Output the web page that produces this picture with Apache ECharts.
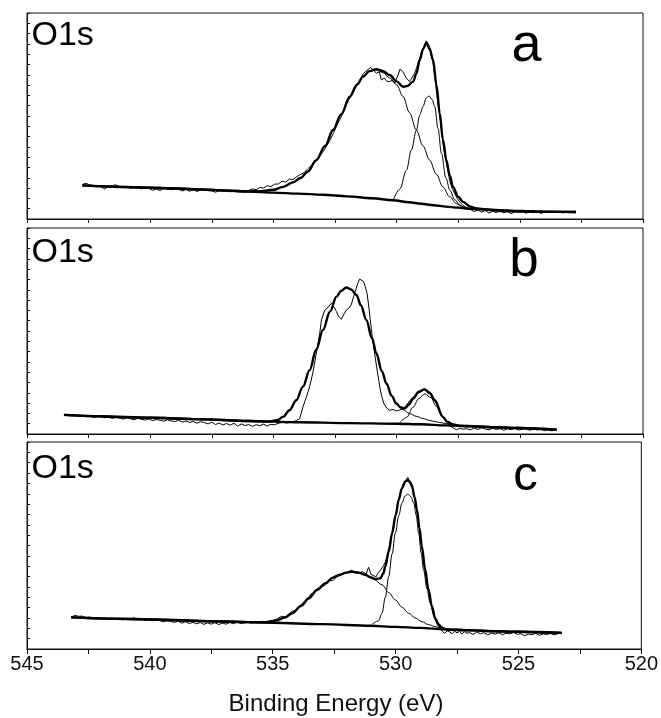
<!DOCTYPE html>
<html>
<head>
<meta charset="utf-8">
<script src="https://cdn.jsdelivr.net/npm/echarts@6/dist/echarts.min.js"></script>
<style>
  html, body { margin: 0; padding: 0; background: #fff; }
  #chart { width: 661px; height: 718px; }
</style>
</head>
<body>
<div id="chart"></div>
<script>
// O1s XPS spectra, binding energy (eV) vs intensity (arb. units, 0-100 per panel)
const energyTicks = [545, 540, 535, 530, 525, 520];
const panelLetters = ['a', 'b', 'c'];
const coreLevel = 'O1s';

// ---- panel a ----
const rawA = [
  [542.75,16.8],[542.6,17.3],[542.45,16.5],[542.3,16.2],[542.15,16.0],[542.0,15.8],[541.85,14.5],[541.7,15.9],
  [541.55,16.1],[541.4,16.6],[541.25,15.6],[541.1,15.4],[540.95,15.8],[540.8,14.9],[540.65,15.3],[540.5,15.5],
  [540.35,14.6],[540.2,15.2],[540.05,14.8],[539.9,13.9],[539.75,14.6],[539.6,13.8],[539.45,14.9],[539.3,14.7],
  [539.15,14.2],[539.0,14.8],[538.85,14.5],[538.7,13.6],[538.55,14.3],[538.4,13.5],[538.25,14.2],[538.1,13.4],
  [537.95,14.1],[537.8,14.0],[537.65,13.7],[537.5,13.6],[537.35,13.0],[537.2,13.8],[537.05,13.4],[536.9,13.6],
  [536.75,13.2],[536.6,13.5],[536.45,13.4],[536.3,13.7],[536.15,13.4],[536.0,13.9],[535.85,14.6],[535.7,14.2],
  [535.55,15.3],[535.4,15.0],[535.25,16.2],[535.1,15.7],[534.95,16.9],[534.8,17.0],[534.65,18.3],[534.5,17.9],
  [534.35,19.4],[534.2,19.1],[534.05,20.6],[533.9,21.6],[533.75,22.5],[533.6,24.4],[533.45,26.1],[533.3,27.6],
  [533.15,30.0],[533.0,32.5],[532.85,35.3],[532.7,38.4],[532.55,42.0],[532.4,46.2],[532.25,49.5],[532.1,53.7],
  [531.95,57.6],[531.8,61.3],[531.65,64.0],[531.5,67.3],[531.35,70.6],[531.2,72.2],[531.05,73.6],[530.95,72.3],
  [530.82,70.8],[530.7,71.5],[530.62,67.5],[530.5,68.4],[530.4,66.9],[530.28,66.7],[530.18,67.3],[530.08,65.9],
  [530.0,66.5],[529.94,69.9],[529.86,72.8],[529.81,73.4],[529.75,71.6],[529.71,72.4],[529.6,68.3],[529.47,66.7],
  [529.37,68.8],[529.27,70.7],[529.2,73.0],[529.13,75.6],[529.06,78.2],[529.0,80.5],[528.93,82.7],[528.86,84.5],
  [528.8,86.5],[528.77,85.9],[528.72,84.9],[528.66,83.7],[528.59,80.2],[528.52,75.6],[528.45,69.5],[528.39,62.6],
  [528.32,56.0],[528.25,49.7],[528.18,43.2],[528.12,36.7],[528.05,31.5],[527.98,27.0],[527.9,22.3],[527.85,18.8],
  [527.75,15.0],[527.64,12.4],[527.54,10.0],[527.44,8.3],[527.3,6.6],[527.17,5.5],[527.0,4.6],[526.85,3.6],
  [526.7,4.4],[526.55,3.3],[526.4,4.1],[526.25,2.9],[526.1,3.8],[525.95,3.1],[525.8,4.0],[525.65,3.0],
  [525.5,3.7],[525.35,2.6],[525.2,3.6],[525.05,3.2],[524.9,3.9],[524.75,2.8],[524.6,3.5],[524.45,3.0],
  [524.3,3.7],[524.15,2.7],[524.0,3.4],[523.85,3.1],[523.7,3.8],[523.55,3.2],[523.4,3.5],[523.25,2.9],
  [523.1,3.6],[522.95,3.3],[522.8,3.6],[522.72,3.5]
];
const envelopeA = [
  [542.75,16.3],[540,15.2],[538,14.4],[536.5,13.6],[536,13.4],[535.5,13.5],[535,14.2],[534.6,15.6],[534.2,17.8],
  [533.9,19.9],[533.6,23.0],[533.26,28.6],[532.9,35.5],[532.58,43.2],[532.25,50.8],[531.9,59.4],[531.6,65.3],
  [531.36,69.1],[531.1,71.8],[530.82,72.7],[530.55,71.8],[530.28,69.9],[530.0,66.8],[529.74,64.2],[529.55,64.6],
  [529.33,66.7],[529.2,70.5],[529.06,77.2],[528.92,82.7],[528.79,85.6],[528.66,82.5],[528.52,77.2],[528.38,65.0],
  [528.25,51.3],[528.12,38.5],[527.98,28.6],[527.84,21.0],[527.71,15.6],[527.5,10.8],[527.3,8.3],[527.0,6.0],
  [526.76,5.1],[526.2,4.4],[525.68,3.9],[524.5,3.6],[522.72,3.4]
];
const backgroundA = [
  [542.75,16.3],[541,15.6],[540,15.2],[539,14.8],[538,14.4],[537,13.9],[536,13.3],[535,12.8],[534,12.3],
  [533,11.8],[532,11.0],[531,10.1],[530.14,9.1],[529.5,8.1],[529,7.4],[528.5,6.7],[528,6.0],[527.5,5.5],
  [527,5.0],[526,4.4],[525,3.9],[524,3.6],[522.72,3.4]
];
const broadA = [
  [536,13.4],[535.5,13.5],[535,14.2],[534.6,15.6],[534.2,17.8],[533.9,19.9],[533.6,23.0],[533.26,28.6],
  [532.9,35.5],[532.58,43.2],[532.25,50.8],[531.9,59.4],[531.6,65.3],[531.36,69.1],[531.1,71.8],[530.82,72.5],
  [530.55,71.0],[530.28,68.4],[530.0,65.2],[529.74,59.5],[529.47,51.5],[529.2,43.2],[528.93,35.5],[528.66,28.6],
  [528.39,21.8],[528.12,15.6],[527.85,10.8],[527.57,7.5],[527.3,5.8],[527.0,5.0],[526.5,4.6]
];
const narrowA = [
  [530.14,9.1],[529.87,14.5],[529.6,23.7],[529.4,33.5],[529.2,43.0],[529.06,50.5],[528.93,54.5],[528.8,58.7],
  [528.68,59.7],[528.56,58.0],[528.45,54.5],[528.32,44.0],[528.18,31.8],[528.0,20.0],[527.84,14.0],[527.65,9.5],
  [527.43,6.7],[527.2,5.4],[527.0,5.0]
];

// ---- panel b ----
const rawB = [
  [543.5,9.4],[543.35,9.0],[543.2,8.8],[543.05,9.1],[542.9,8.6],[542.75,8.9],[542.6,8.3],[542.45,8.7],[542.3,8.0],
  [542.15,8.5],[542.0,8.6],[541.85,7.9],[541.7,8.4],[541.55,7.6],[541.4,8.1],[541.25,7.8],[541.1,7.2],[540.95,7.9],
  [540.8,7.4],[540.65,6.9],[540.5,7.6],[540.35,7.1],[540.2,6.8],[540.05,7.3],[539.9,6.5],[539.75,7.0],[539.6,6.7],
  [539.45,6.2],[539.3,6.9],[539.15,6.4],[539.0,6.0],[538.85,6.7],[538.7,5.8],[538.55,6.3],[538.4,5.6],[538.25,6.1],
  [538.1,5.2],[537.95,6.0],[537.8,5.5],[537.65,4.9],[537.5,5.7],[537.35,4.6],[537.2,5.3],[537.05,4.4],[536.9,5.1],
  [536.75,4.3],[536.6,5.2],[536.45,3.8],[536.3,4.9],[536.15,4.1],[536.0,4.6],[535.85,3.7],[535.7,4.5],[535.55,4.0],
  [535.4,4.8],[535.25,3.9],[535.1,4.7],[534.95,4.5],[534.8,5.2],[534.61,5.6],[534.45,5.3],[534.3,5.9],[534.2,6.0],
  [534.07,6.5],[533.93,7.5],[533.8,13.2],[533.66,18.0],[533.53,22.9],[533.39,30.2],[533.26,39.1],[533.12,48.9],
  [533.05,55.4],[532.92,60.0],[532.78,61.5],[532.65,63.5],[532.55,61.8],[532.44,59.4],[532.35,57.0],[532.24,55.7],
  [532.14,58.2],[532.04,60.2],[531.94,61.0],[531.84,62.7],[531.75,66.5],[531.66,70.0],[531.58,73.0],[531.5,75.2],
  [531.42,75.0],[531.34,74.0],[531.27,71.5],[531.2,68.3],[531.13,62.0],[531.07,55.4],[531.0,48.5],[530.93,42.4],
  [530.86,36.5],[530.79,31.0],[530.72,25.8],[530.66,21.3],[530.59,17.8],[530.52,14.8],[530.4,12.6],[530.28,11.5],
  [530.15,11.9],[530.01,11.2],[529.88,11.6],[529.74,12.3],[529.6,14.0],[529.47,16.1],[529.33,17.8],[529.2,19.3],
  [529.06,20.2],[528.93,21.3],[528.8,21.0],[528.66,20.5],[528.52,17.8],[528.39,14.8],[528.25,11.2],[528.12,8.3],
  [527.98,6.0],[527.85,4.2],[527.71,3.0],[527.57,2.1],[527.44,2.8],[527.3,2.3],[527.17,2.6],[527.0,2.0],
  [526.85,2.9],[526.7,2.2],[526.55,3.0],[526.4,2.4],[526.25,2.0],[526.1,2.8],[525.95,2.2],[525.8,2.6],
  [525.65,1.8],[525.5,2.5],[525.35,2.1],[525.2,2.7],[525.05,1.9],[524.9,2.3],[524.75,2.6],[524.6,1.8],
  [524.45,2.4],[524.3,2.0],[524.15,2.5],[524.0,1.6],[523.85,2.1],[523.7,1.5],[523.52,2.0]
];
const envelopeB = [
  [543.5,9.3],[540,7.9],[537,6.8],[536,6.3],[535.2,6.0],[534.85,6.7],[534.61,8.3],[534.35,11.5],[534.07,16.4],
  [533.8,23.0],[533.53,31.0],[533.26,41.0],[532.99,50.5],[532.7,59.5],[532.44,66.7],[532.25,69.5],[532.04,71.1],
  [531.85,70.2],[531.63,67.5],[531.45,62.5],[531.23,55.4],[531.0,46.5],[530.82,39.1],[530.6,30.5],[530.41,24.5],
  [530.2,18.5],[530.01,14.8],[529.85,13.0],[529.67,12.4],[529.5,14.3],[529.33,17.2],[529.1,20.5],[528.86,21.8],
  [528.65,19.8],[528.45,16.4],[528.12,8.3],[527.95,6.0],[527.71,4.6],[527.4,4.0],[526,3.3],[525,2.9],[523.5,2.1]
];
const backgroundB = [
  [543.5,9.3],[542,8.7],[540,7.9],[538,7.2],[536,6.3],[534,5.7],[532,5.3],[530,5.0],[529,4.7],[528,4.2],
  [527,3.7],[526,3.3],[525,2.9],[524,2.4],[523.5,2.1]
];
const broadB = [
  [535.2,6.0],[534.85,6.7],[534.61,8.3],[534.35,11.5],[534.07,16.4],[533.8,23.0],[533.53,31.0],[533.26,41.0],
  [532.99,50.5],[532.7,59.5],[532.44,66.7],[532.25,69.5],[532.04,71.1],[531.85,70.2],[531.63,67.5],[531.45,62.5],
  [531.23,55.4],[531.0,46.5],[530.82,39.1],[530.6,30.5],[530.41,24.5],[530.2,18.5],[530.01,14.8],[529.74,11.8],
  [529.47,9.9],[529.2,8.6],[528.93,7.5],[528.66,6.6],[528.39,5.9],[528.12,5.3],[527.85,4.8],[527.57,4.3]
];
const smallB = [
  [529.9,5.0],[529.6,8.0],[529.33,13.0],[529.1,17.2],[528.86,19.5],[528.6,17.6],[528.4,13.5],[528.12,8.0],
  [527.85,5.2],[527.6,4.3]
];

// ---- panel c ----
const rawC = [
  [543.2,15.5],[543.05,16.2],[542.9,15.8],[542.75,15.9],[542.6,15.3],[542.45,15.5],[542.3,15.0],[542.15,15.2],
  [542.0,14.4],[541.85,15.0],[541.7,14.3],[541.55,14.9],[541.4,14.6],[541.25,14.8],[541.1,14.1],[540.95,14.7],
  [540.8,14.5],[540.65,15.1],[540.5,14.2],[540.35,14.4],[540.2,13.9],[540.05,14.3],[539.9,13.6],[539.75,14.1],
  [539.6,13.8],[539.45,13.1],[539.3,13.7],[539.15,13.4],[539.0,12.8],[538.85,13.5],[538.7,12.5],[538.55,13.2],
  [538.4,12.3],[538.25,12.9],[538.1,12.2],[537.95,12.8],[537.8,11.9],[537.65,12.6],[537.5,12.0],[537.35,12.7],
  [537.2,11.8],[537.05,12.5],[536.9,12.0],[536.75,12.8],[536.6,12.2],[536.45,12.9],[536.3,12.4],[536.15,12.6],
  [536.0,12.9],[535.85,12.5],[535.7,13.1],[535.55,12.8],[535.4,13.4],[535.25,13.0],[535.1,13.6],[534.95,13.9],
  [534.8,14.7],[534.65,15.8],[534.5,15.4],[534.35,16.9],[534.2,18.3],[534.05,18.7],[533.9,20.8],[533.75,22.6],
  [533.6,23.5],[533.45,26.5],[533.3,27.2],[533.15,29.5],[533.0,30.1],[532.85,31.0],[532.7,33.5],[532.55,33.0],
  [532.4,34.8],[532.25,35.5],[532.1,36.4],[531.95,37.2],[531.8,38.1],[531.65,37.0],[531.5,36.6],[531.35,37.4],
  [531.2,36.2],[531.1,39.5],[531.0,36.0],[530.9,35.5],[530.8,34.8],[530.7,36.9],[530.62,38.0],[530.55,38.8],
  [530.48,40.5],[530.42,42.0],[530.35,44.5],[530.28,48.5],[530.2,52.0],[530.14,56.5],[530.07,60.5],[530.0,64.8],
  [529.94,68.0],[529.87,72.5],[529.8,75.6],[529.74,77.8],[529.67,80.0],[529.6,81.2],[529.55,82.0],[529.5,83.0],
  [529.45,81.0],[529.4,80.2],[529.33,78.0],[529.26,74.5],[529.2,71.0],[529.13,66.0],[529.06,61.0],[529.0,54.5],
  [528.93,49.0],[528.86,43.5],[528.79,38.0],[528.72,33.0],[528.66,28.3],[528.59,24.0],[528.52,20.0],[528.45,17.0],
  [528.39,14.5],[528.32,12.6],[528.25,11.0],[528.18,9.8],[528.1,8.6],[528.0,7.6],[527.9,8.8],[527.8,8.2],
  [527.7,7.4],[527.6,8.6],[527.5,7.8],[527.4,8.5],[527.3,7.2],[527.2,8.4],[527.1,7.6],[527.0,8.0],
  [526.85,7.0],[526.7,8.2],[526.55,7.4],[526.4,7.9],[526.25,6.8],[526.1,7.7],[525.95,7.2],[525.8,7.8],
  [525.65,6.9],[525.5,7.6],[525.35,7.3],[525.2,8.0],[525.05,7.1],[524.9,7.4],[524.75,6.4],[524.6,7.2],
  [524.45,6.9],[524.3,7.6],[524.15,6.6],[524.0,7.3],[523.85,7.0],[523.7,7.5],[523.55,6.8],[523.4,7.4],[523.24,7.6]
];
const envelopeC = [
  [543.2,15.3],[540,14.3],[537,13.3],[536,13.0],[535.3,12.9],[534.88,13.7],[534.5,15.2],[534.2,17.3],
  [533.85,20.8],[533.53,24.5],[533.2,28.5],[532.85,31.8],[532.55,34.5],[532.31,35.8],[532.0,36.9],[531.77,37.3],
  [531.5,36.9],[531.23,35.8],[531.0,34.6],[530.82,33.7],[530.62,34.2],[530.5,36.5],[530.42,39.9],[530.28,47.0],
  [530.14,56.0],[530.0,64.5],[529.87,72.1],[529.75,77.5],[529.6,81.0],[529.5,81.5],[529.4,80.5],[529.33,78.6],
  [529.23,73.5],[529.13,67.3],[529.03,58.5],[528.93,49.5],[528.8,38.5],[528.66,28.6],[528.52,20.5],[528.39,14.8],
  [528.25,11.8],[528.12,10.0],[527.85,9.3],[527,9.0],[525,8.3],[523.24,7.8]
];
const backgroundC = [
  [543.2,15.3],[541,14.6],[539,13.9],[537,13.3],[535,12.7],[533,12.0],[531,11.2],[530,10.7],[529,10.2],
  [528,9.5],[527,9.1],[526,8.6],[525,8.3],[524,8.0],[523.24,7.8]
];
const broadC = [
  [535.3,12.9],[534.88,13.7],[534.5,15.2],[534.2,17.3],[533.85,20.8],[533.53,24.5],[533.2,28.5],[532.85,31.8],
  [532.55,34.5],[532.31,35.8],[532.0,36.9],[531.77,37.3],[531.5,36.9],[531.23,35.7],[530.9,33.8],[530.55,31.0],
  [530.28,27.3],[530.01,23.7],[529.74,20.2],[529.47,17.3],[529.2,15.0],[528.93,13.2],[528.66,11.8],[528.39,10.8],
  [528.12,10.0],[527.85,9.4]
];
const narrowC = [
  [530.96,11.9],[530.7,13.5],[530.55,17.3],[530.42,25.0],[530.28,35.0],[530.14,46.0],[530.01,56.0],[529.87,64.5],
  [529.74,70.5],[529.62,73.8],[529.5,74.8],[529.38,73.6],[529.26,70.5],[529.16,64.5],[529.06,56.0],[528.96,46.5],
  [528.86,38.2],[528.72,29.0],[528.59,22.1],[528.45,16.5],[528.32,13.2],[528.15,11.0],[527.98,10.0],[527.8,9.5]
];

const panels = [
  { raw: rawA, envelope: envelopeA, background: backgroundA, components: [broadA, narrowA] },
  { raw: rawB, envelope: envelopeB, background: backgroundB, components: [broadB, smallB] },
  { raw: rawC, envelope: envelopeC, background: backgroundC, components: [broadC, narrowC] }
];

// layout of the three stacked frames
const frames = [
  { top: 13, height: 206 },
  { top: 228, height: 206 },
  { top: 442, height: 207 }
];
const FONT = '"Liberation Sans", Arial, sans-serif';

const grids = frames.map(f => ({
  left: 27, right: 18, top: f.top, height: f.height,
  show: true, borderColor: '#111', borderWidth: 1, backgroundColor: 'transparent'
}));

const xAxes = frames.map((f, i) => ({
  gridIndex: i, type: 'value', inverse: true,
  min: energyTicks[energyTicks.length - 1], max: energyTicks[0], interval: 2.5,
  splitLine: { show: false },
  axisLine: { show: true, lineStyle: { color: '#111', width: 1 } },
  axisTick: { show: true, inside: false, length: i === 2 ? 5 : 4, lineStyle: { color: '#111', width: 1 } },
  axisLabel: {
    show: i === 2, margin: 5, fontFamily: FONT, fontSize: 20, color: '#111',
    formatter: v => (energyTicks.indexOf(v) >= 0 ? String(v) : '')
  }
}));

const yAxes = frames.map((f, i) => ({
  gridIndex: i, type: 'value', min: 0, max: 100, interval: 5,
  splitLine: { show: false },
  axisLine: { show: true, lineStyle: { color: '#111', width: 1 } },
  axisTick: { show: true, inside: true, length: 3, lineStyle: { color: '#111', width: 1 } },
  axisLabel: { show: false }
}));

const series = [];
panels.forEach((p, i) => {
  const base = { type: 'line', xAxisIndex: i, yAxisIndex: i, showSymbol: false, symbol: 'none', silent: true, animation: false };
  series.push(Object.assign({}, base, { name: 'raw', data: p.raw, lineStyle: { color: '#000', width: 1 } }));
  p.components.forEach(c => {
    series.push(Object.assign({}, base, { name: 'component', data: c, smooth: 0.35, smoothMonotone: 'x', lineStyle: { color: '#000', width: 1 } }));
  });
  series.push(Object.assign({}, base, { name: 'background', data: p.background, smooth: 0.35, smoothMonotone: 'x', lineStyle: { color: '#000', width: 2.4 } }));
  series.push(Object.assign({}, base, { name: 'envelope', data: p.envelope, smooth: 0.35, smoothMonotone: 'x', lineStyle: { color: '#000', width: 2.4 } }));
});

// panel labels
const coreLabelY = [36, 252.5, 469];
const letterPos = [
  { x: 526.5, y: 46.5, size: 54 },
  { x: 524, y: 261, size: 53 },
  { x: 525.5, y: 476, size: 49 }
];
const graphics = [];
frames.forEach((f, i) => {
  graphics.push({
    type: 'text', x: 31.5, y: coreLabelY[i],
    style: { text: coreLevel, font: '34px ' + FONT, fill: '#000', textAlign: 'left', textVerticalAlign: 'middle', verticalAlign: 'middle' }
  });
  graphics.push({
    type: 'text', x: letterPos[i].x, y: letterPos[i].y,
    style: { text: panelLetters[i], font: letterPos[i].size + 'px ' + FONT, fill: '#000', textAlign: 'center', textVerticalAlign: 'middle', verticalAlign: 'middle' }
  });
});
graphics.push({
  type: 'text', x: 336, y: 704,
  style: { text: 'Binding Energy (eV)', font: '24px ' + FONT, fill: '#111', textAlign: 'center', textVerticalAlign: 'middle', verticalAlign: 'middle' }
});

const chart = echarts.init(document.getElementById('chart'), null, { renderer: 'canvas' });
chart.setOption({
  animation: false,
  backgroundColor: '#fff',
  grid: grids,
  xAxis: xAxes,
  yAxis: yAxes,
  series: series,
  graphic: graphics
});
</script>
</body>
</html>
